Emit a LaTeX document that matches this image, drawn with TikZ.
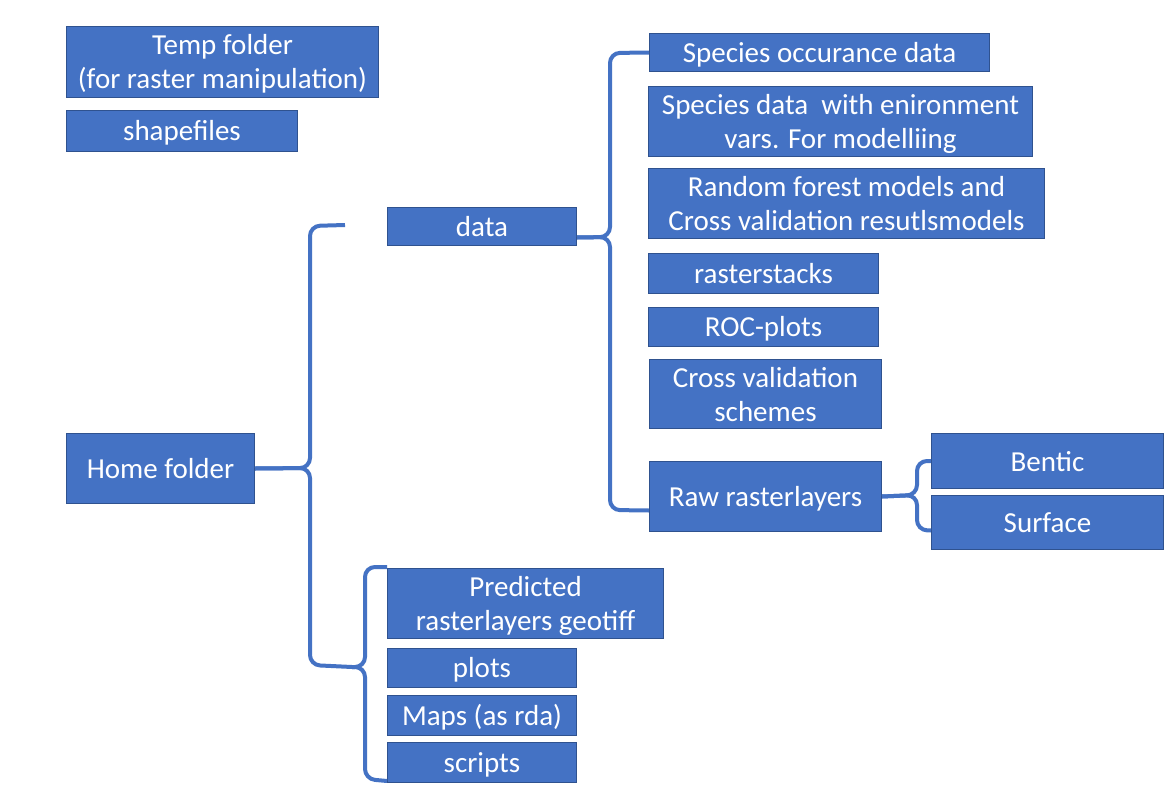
\documentclass[tikz,border=0pt]{standalone}
\usepackage{fontspec}
\setmainfont{Carlito}
\usetikzlibrary{calc}
\definecolor{boxblue}{HTML}{4472C4}
\definecolor{boxedge}{HTML}{2F528F}
\newcommand{\fs}{\rule[-4pt]{0pt}{28pt}}
\tikzset{
  folder/.style={draw=boxedge, line width=1pt, fill=boxblue, text=white,
    anchor=north west, inner sep=0pt, align=center,
    font=\fontsize{29}{34}\selectfont},
  brace/.style={draw=boxblue, line width=4pt, rounded corners=10pt},
}
\begin{document}
\begin{tikzpicture}[x=1pt,y=-1pt]
\useasboundingbox[fill=white] (0,0) rectangle (1176,795);
% nodes
\node[folder, minimum width=312, minimum height=71] (temp) at (66,26) {\fs Temp folder\\\fs(for raster manipulation)};
\node[folder, minimum width=231, minimum height=41] (shp) at (66,110) {\fs shapefiles};
\node[folder, minimum width=188, minimum height=70] (home) at (66,433) {\fs Home folder};
\node[folder, minimum width=189, minimum height=38] (data) at (387,207) {\fs data};
\node[folder, minimum width=340, minimum height=38] (occ) at (649,33) {\fs Species occurance data};
\node[folder, minimum width=384, minimum height=70] (spenv) at (648,86) {\fs Species data~ with enironment\\\fs vars. For modelliing};
\node[folder, minimum width=396, minimum height=70] (rf) at (648,168) {\fs Random forest models and\\\fs Cross validation resutlsmodels};
\node[folder, minimum width=230, minimum height=40] (rs) at (648,253) {\fs rasterstacks};
\node[folder, minimum width=230, minimum height=39] (roc) at (648,307) {\fs ROC-plots};
\node[folder, minimum width=232, minimum height=69] (cvs) at (649,359) {\fs Cross validation\\\fs schemes};
\node[folder, minimum width=232, minimum height=70] (raw) at (649,461) {\fs Raw rasterlayers};
\node[folder, minimum width=232, minimum height=55] (bentic) at (931,433) {\fs Bentic};
\node[folder, minimum width=232, minimum height=54] (surface) at (931,495) {\fs Surface};
\node[folder, minimum width=276, minimum height=70] (pred) at (387,568) {\fs Predicted\\\fs rasterlayers geotiff};
\node[folder, minimum width=189, minimum height=39] (plots) at (387,648) {\fs plots};
\node[folder, minimum width=189, minimum height=40] (maps) at (387,695) {\fs Maps (as rda)};
\node[folder, minimum width=189, minimum height=40] (scripts) at (387,742) {\fs scripts};
% free ends
\coordinate (htop) at (345,225);
\coordinate (ptip) at (352,667);
% home brace
\draw[brace] (home.east) -- (310,468) -- (310,226) -- (htop);
\draw[brace] (home.east) -- (310,468) -- (310,665) -- (ptip);
% data brace
\draw[brace] ($(data.east)+(0,11)$) -- (610,237) -- (610,53) -- (occ.west);
\draw[brace] ($(data.east)+(0,11)$) -- (610,237) -- (610,510) -- ($(raw.west)+(0,14)$);
% raw brace
\draw[brace] (raw.east) -- (917,495) -- (917,461) -- (bentic.west);
\draw[brace] (raw.east) -- (917,495) -- (917,530) -- ($(surface.west)+(0,8)$);
% predicted brace
\draw[brace] (ptip) -- (365,667) -- (365,567) -- ($(pred.north west)+(0,-1)$);
\draw[brace] (ptip) -- (365,667) -- (365,779) -- ($(scripts.south west)+(0,-2)$);
\end{tikzpicture}
\end{document}
